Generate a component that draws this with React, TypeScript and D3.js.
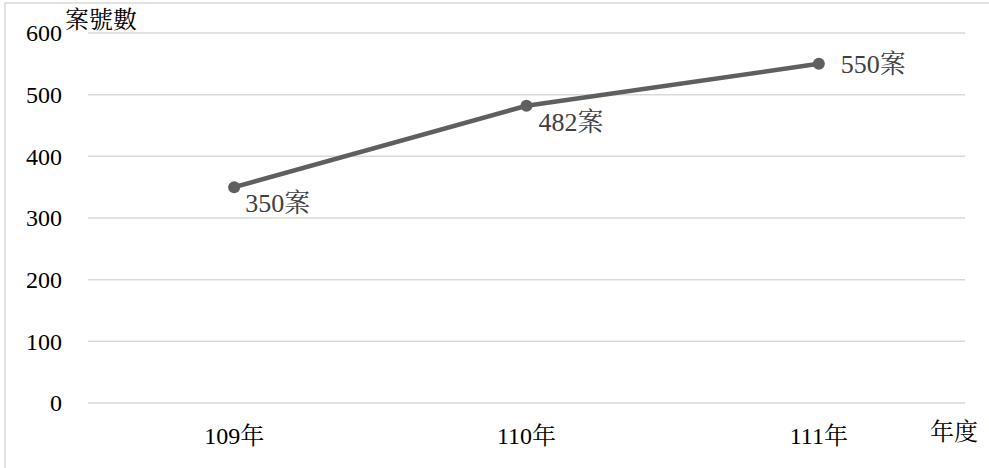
import React from "react";
import * as d3 from "d3";

const categories = ["109年", "110年", "111年"];
const values = [350, 482, 550];
const yTicks = [0, 100, 200, 300, 400, 500, 600];
const valueSuffix = "案";
const yTitle = "案號數";
const xTitle = "年度";

const W = 989;
const H = 468;
const serifFace = '"Liberation Serif"';

export default function App() {
  const x = d3.scaleBand<string>().domain(categories).range([88, 965]);
  const y = d3.scaleLinear().domain([0, 600]).range([403, 33]);
  const line = d3
    .line<number>()
    .x((_, i) => (x(categories[i]) as number) + x.bandwidth() / 2)
    .y((v) => y(v));

  // label offsets relative to each point
  const labelDx = [11, 12, 22];
  const labelDy = [16, 16, 0];

  return (
    <svg
      width={W}
      height={H}
      className="case-chart"
      style={{ position: "absolute", left: 0, top: 0, background: "#fff" }}
    >
      <style>{`.case-chart text { font-family: "Liberation Serif", "Noto Serif CJK TC", serif !important; }`}</style>
      <rect x={5} y={3} width={W + 10} height={H + 10} fill="#fff" stroke="#d9d9d9" strokeWidth={1.5} />
      {yTicks.map((t) => (
        <g key={t}>
          <line x1={88} x2={965} y1={y(t)} y2={y(t)} stroke="#d9d9d9" strokeWidth={1.5} />
          <text
            x={62}
            y={y(t)}
            dy="0.35em"
            textAnchor="end"
            fontSize={24}
            fill="#000"
            fontFamily={serifFace}
          >
            {t}
          </text>
        </g>
      ))}
      <text x={65} y={20} dy="0.35em" fontSize={24} fill="#000" fontFamily={serifFace}>
        {yTitle}
      </text>
      {categories.map((c) => (
        <text
          key={c}
          x={(x(c) as number) + x.bandwidth() / 2}
          y={436}
          dy="0.35em"
          textAnchor="middle"
          fontSize={24}
          fill="#000"
          fontFamily={serifFace}
        >
          {c}
        </text>
      ))}
      <text x={930} y={432} dy="0.35em" fontSize={24} fill="#000" fontFamily={serifFace}>
        {xTitle}
      </text>
      <path d={line(values) ?? ""} fill="none" stroke="#5f5f5f" strokeWidth={4.5} strokeLinejoin="round" />
      {values.map((v, i) => {
        const cx = (x(categories[i]) as number) + x.bandwidth() / 2;
        return (
          <g key={i}>
            <circle cx={cx} cy={y(v)} r={6} fill="#5f5f5f" />
            <text
              x={cx + labelDx[i]}
              y={y(v) + labelDy[i]}
              dy="0.35em"
              fontSize={26}
              fill="#404040"
              fontFamily={serifFace}
            >
              {`${v}${valueSuffix}`}
            </text>
          </g>
        );
      })}
    </svg>
  );
}
